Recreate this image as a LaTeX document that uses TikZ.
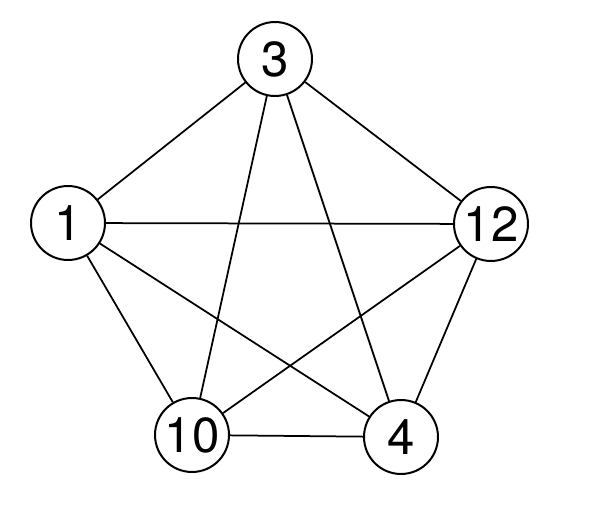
\documentclass[tikz,border=0pt]{standalone}
\usepackage{fontspec}
\setmainfont{TeX Gyre Heros}
\usepackage{tikz}
\tikzset{myVertex/.style={draw,circle,line width=0.4mm,minimum size=1.48cm,inner sep=0pt,font=\fontsize{28}{30}\selectfont}}
\tikzset{myEdge/.style={line width=0.35mm,color=black}}

\begin{document}
\begin{tikzpicture}[x=0.02cm,y=-0.02cm]
	\useasboundingbox (0,0) rectangle (589,506);
	% vertices
	\node[myVertex] (v3) at (275,59) {3};
	\node[myVertex] (v1) at (68,223) {1};
	\node[myVertex] (v12) at (491,224) {12};
	\node[myVertex] (v10) at (192,435) {10};
	\node[myVertex] (v4) at (401,437) {4};
	
	% edges
	\draw[myEdge] (v3) -- (v1);
	\draw[myEdge] (v3) -- (v12);
	\draw[myEdge] (v3) -- (v10);
	\draw[myEdge] (v3) -- (v4);
	\draw[myEdge] (v1) -- (v12);
	\draw[myEdge] (v1) -- (v10);
	\draw[myEdge] (v1) -- (v4);
	\draw[myEdge] (v12) -- (v10);
	\draw[myEdge] (v12) -- (v4);
	\draw[myEdge] (v10) -- (v4);

\end{tikzpicture}
\end{document}
